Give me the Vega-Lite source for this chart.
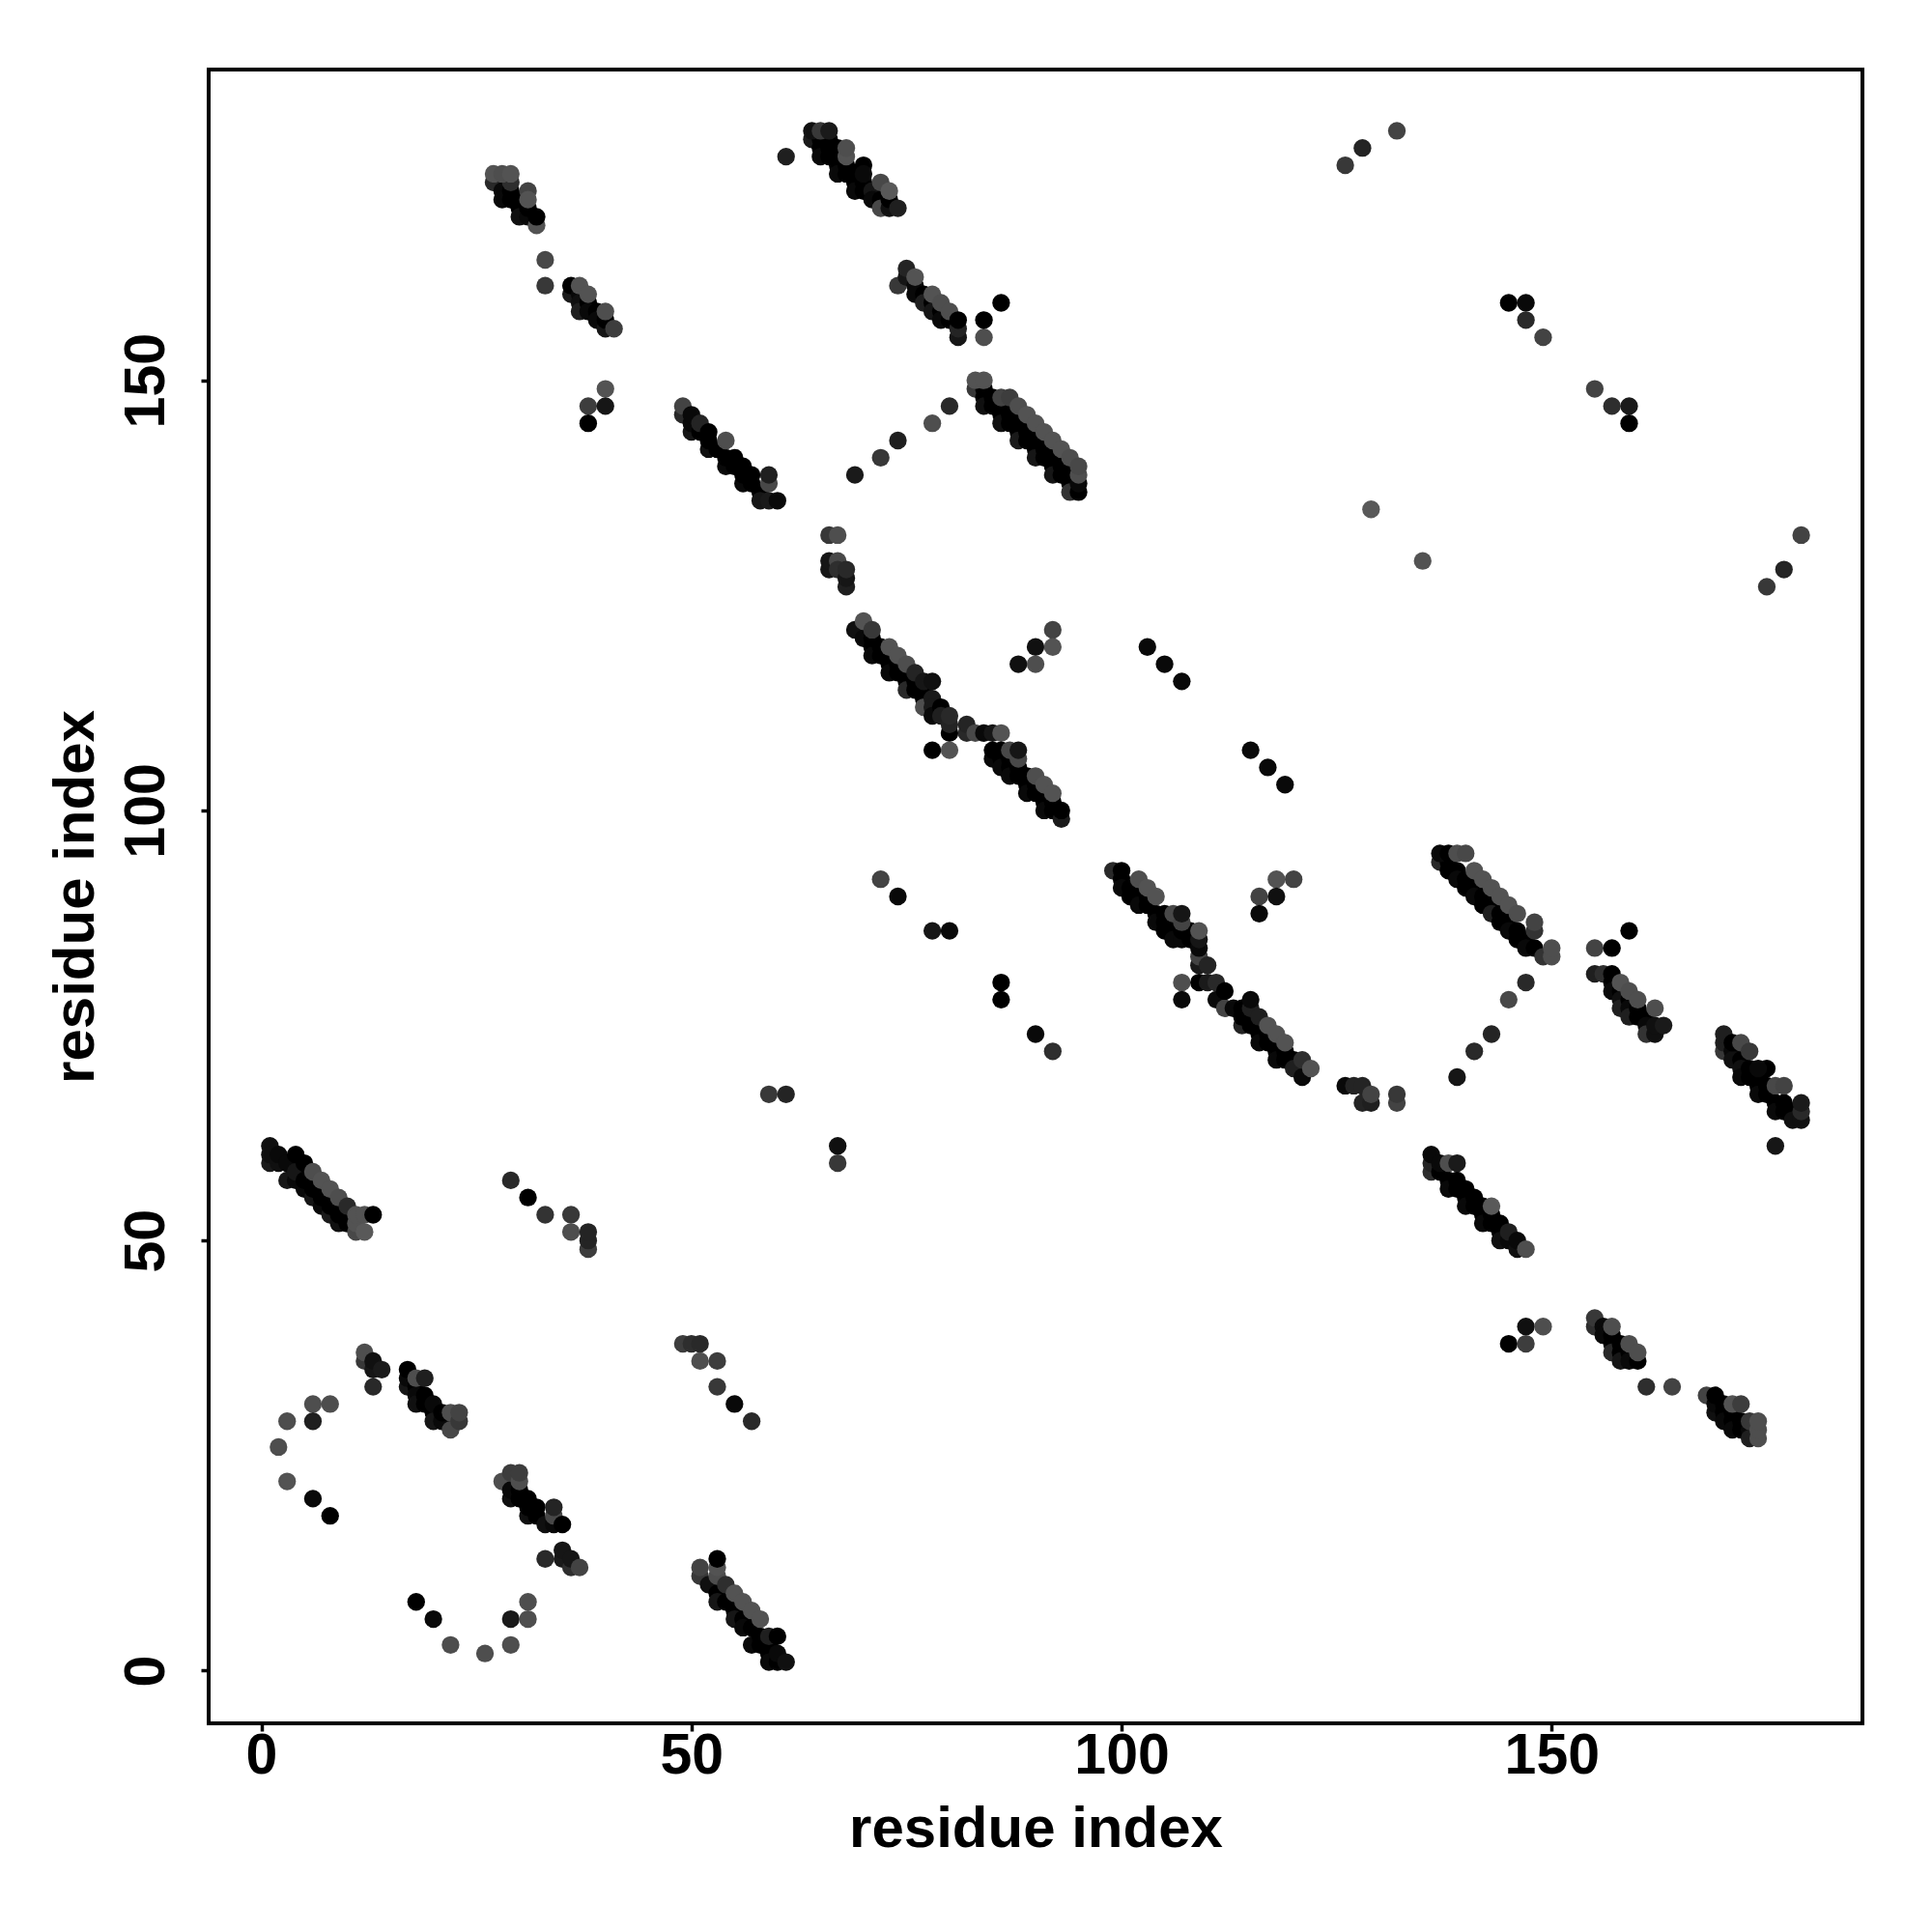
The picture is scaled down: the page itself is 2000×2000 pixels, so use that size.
{"$schema":"https://vega.github.io/schema/vega-lite/v6.json","width":1712,"height":1712,"autosize":{"type":"none"},"padding":{"left":216,"top":72,"right":72,"bottom":216},"background":"white","view":{"stroke":"black","strokeWidth":4,"fill":null},"data":{"values":[
{"x":1,"y":59,"s":20},{"x":2,"y":59,"s":10},{"x":3,"y":57,"s":15},{"x":4,"y":57,"s":5},{"x":5,"y":56,"s":5},{"x":6,"y":55,"s":15},{"x":7,"y":54,"s":5},{"x":8,"y":53,"s":20},{"x":9,"y":52,"s":10},{"x":10,"y":52,"s":5},
{"x":1,"y":61,"s":10},{"x":1,"y":60,"s":10},{"x":2,"y":60,"s":5},{"x":3,"y":59,"s":5},{"x":4,"y":58,"s":15},{"x":5,"y":57,"s":0},{"x":6,"y":56,"s":0},{"x":7,"y":55,"s":0},{"x":8,"y":54,"s":0},{"x":9,"y":53,"s":0},{"x":10,"y":52,"s":0},{"x":4,"y":60,"s":0},{"x":5,"y":59,"s":0},
{"x":6,"y":58,"s":70},{"x":7,"y":57,"s":75},{"x":8,"y":56,"s":75},{"x":9,"y":55,"s":70},{"x":10,"y":54,"s":35},{"x":11,"y":51,"s":65},{"x":11,"y":52,"s":75},{"x":11,"y":53,"s":75},{"x":12,"y":53,"s":75},{"x":12,"y":51,"s":80},{"x":13,"y":53,"s":0},
{"x":29,"y":57,"s":35},{"x":31,"y":55,"s":0},{"x":33,"y":53,"s":45},{"x":36,"y":53,"s":50},{"x":36,"y":51,"s":70},{"x":38,"y":49,"s":55},{"x":38,"y":50,"s":30},{"x":38,"y":51,"s":30},
{"x":8,"y":31,"s":70},{"x":6,"y":31,"s":70},{"x":6,"y":29,"s":25},{"x":3,"y":29,"s":70},{"x":2,"y":26,"s":70},{"x":3,"y":22,"s":75},{"x":6,"y":20,"s":5},{"x":8,"y":18,"s":0},
{"x":12,"y":36,"s":50},{"x":12,"y":37,"s":70},{"x":13,"y":35,"s":15},{"x":13,"y":36,"s":10},{"x":14,"y":35,"s":20},{"x":13,"y":33,"s":35},
{"x":17,"y":33,"s":15},{"x":17,"y":34,"s":5},{"x":17,"y":35,"s":0},{"x":18,"y":33,"s":0},{"x":18,"y":32,"s":5},{"x":18,"y":31,"s":10},{"x":19,"y":31,"s":0},{"x":19,"y":32,"s":0},{"x":20,"y":30,"s":0},{"x":20,"y":31,"s":5},{"x":20,"y":29,"s":15},{"x":21,"y":29,"s":5},{"x":21,"y":30,"s":0},{"x":18,"y":34,"s":70},{"x":19,"y":34,"s":25},{"x":22,"y":28,"s":65},{"x":22,"y":30,"s":70},{"x":23,"y":29,"s":50},{"x":23,"y":30,"s":60},
{"x":28,"y":22,"s":70},{"x":29,"y":20,"s":10},{"x":29,"y":21,"s":5},{"x":30,"y":20,"s":0},{"x":30,"y":21,"s":0},{"x":31,"y":18,"s":10},{"x":31,"y":19,"s":0},{"x":31,"y":20,"s":0},{"x":32,"y":18,"s":0},{"x":32,"y":19,"s":0},{"x":33,"y":17,"s":10},{"x":34,"y":17,"s":5},{"x":29,"y":23,"s":55},{"x":30,"y":22,"s":70},{"x":30,"y":23,"s":55},{"x":34,"y":18,"s":65},{"x":34,"y":19,"s":30},{"x":35,"y":17,"s":0},
{"x":33,"y":13,"s":35},{"x":35,"y":13,"s":20},{"x":36,"y":12,"s":40},{"x":35,"y":14,"s":15},{"x":36,"y":13,"s":15},{"x":37,"y":12,"s":60},
{"x":18,"y":8,"s":0},{"x":20,"y":6,"s":5},{"x":22,"y":3,"s":70},{"x":26,"y":2,"s":70},{"x":29,"y":3,"s":70},{"x":29,"y":6,"s":20},{"x":31,"y":6,"s":70},{"x":31,"y":8,"s":70},
{"x":51,"y":11,"s":50},{"x":52,"y":10,"s":10},{"x":53,"y":9,"s":0},{"x":53,"y":8,"s":15},{"x":54,"y":8,"s":0},{"x":55,"y":7,"s":0},{"x":55,"y":6,"s":15},{"x":56,"y":6,"s":0},{"x":56,"y":5,"s":5},{"x":57,"y":5,"s":0},{"x":57,"y":3,"s":5},{"x":58,"y":4,"s":0},{"x":58,"y":3,"s":0},{"x":59,"y":3,"s":0},{"x":59,"y":2,"s":0},{"x":59,"y":1,"s":5},{"x":60,"y":1,"s":0},{"x":60,"y":2,"s":5},{"x":61,"y":1,"s":10},{"x":51,"y":12,"s":60},{"x":53,"y":11,"s":70},{"x":53,"y":12,"s":75},{"x":53,"y":13,"s":0},{"x":54,"y":10,"s":40},{"x":55,"y":9,"s":75},{"x":56,"y":8,"s":75},{"x":57,"y":7,"s":75},{"x":58,"y":6,"s":75},{"x":59,"y":4,"s":25},{"x":60,"y":4,"s":0},
{"x":49,"y":38,"s":55},{"x":50,"y":38,"s":40},{"x":51,"y":38,"s":35},{"x":51,"y":36,"s":70},{"x":53,"y":36,"s":55},{"x":53,"y":33,"s":50},{"x":55,"y":31,"s":5},{"x":57,"y":29,"s":35},
{"x":27,"y":173,"s":35},{"x":28,"y":172,"s":5},{"x":28,"y":171,"s":5},{"x":29,"y":172,"s":0},{"x":29,"y":171,"s":0},{"x":29,"y":173,"s":40},{"x":30,"y":171,"s":0},{"x":30,"y":170,"s":0},{"x":30,"y":169,"s":10},{"x":31,"y":169,"s":5},{"x":31,"y":170,"s":0},{"x":27,"y":174,"s":75},{"x":28,"y":174,"s":70},{"x":29,"y":174,"s":75},{"x":31,"y":172,"s":60},{"x":31,"y":171,"s":75},{"x":32,"y":168,"s":75},{"x":32,"y":169,"s":0},{"x":33,"y":164,"s":65},{"x":33,"y":161,"s":50},
{"x":36,"y":160,"s":20},{"x":36,"y":161,"s":0},{"x":37,"y":160,"s":5},{"x":37,"y":159,"s":10},{"x":37,"y":158,"s":25},{"x":38,"y":159,"s":0},{"x":38,"y":158,"s":5},{"x":39,"y":158,"s":0},{"x":39,"y":157,"s":5},{"x":40,"y":156,"s":15},{"x":37,"y":161,"s":75},{"x":38,"y":160,"s":75},{"x":40,"y":157,"s":0},{"x":40,"y":158,"s":70},{"x":41,"y":156,"s":55},
{"x":40,"y":149,"s":75},{"x":38,"y":147,"s":55},{"x":40,"y":147,"s":15},{"x":38,"y":145,"s":0},
{"x":49,"y":146,"s":35},{"x":49,"y":147,"s":60},{"x":50,"y":144,"s":15},{"x":50,"y":145,"s":5},{"x":50,"y":146,"s":5},{"x":51,"y":144,"s":0},{"x":51,"y":145,"s":30},{"x":52,"y":142,"s":10},{"x":52,"y":143,"s":0},{"x":52,"y":144,"s":0},{"x":53,"y":142,"s":0},{"x":54,"y":140,"s":5},{"x":54,"y":141,"s":0},{"x":55,"y":140,"s":0},{"x":55,"y":141,"s":0},{"x":56,"y":138,"s":5},{"x":56,"y":139,"s":0},{"x":56,"y":140,"s":0},{"x":57,"y":139,"s":0},{"x":57,"y":138,"s":0},{"x":58,"y":137,"s":0},{"x":58,"y":136,"s":15},{"x":59,"y":136,"s":20},{"x":54,"y":143,"s":70},{"x":59,"y":138,"s":65},{"x":59,"y":139,"s":25},{"x":60,"y":136,"s":5},
{"x":61,"y":176,"s":25},
{"x":64,"y":178,"s":20},{"x":65,"y":178,"s":0},{"x":65,"y":177,"s":0},{"x":65,"y":176,"s":5},{"x":66,"y":178,"s":0},{"x":66,"y":177,"s":0},{"x":66,"y":176,"s":0},{"x":67,"y":177,"s":0},{"x":67,"y":176,"s":0},{"x":67,"y":175,"s":0},{"x":67,"y":174,"s":5},{"x":68,"y":175,"s":0},{"x":68,"y":174,"s":0},{"x":69,"y":174,"s":0},{"x":69,"y":173,"s":0},{"x":69,"y":172,"s":5},{"x":70,"y":173,"s":0},{"x":70,"y":172,"s":0},{"x":71,"y":172,"s":15},{"x":71,"y":171,"s":5},{"x":72,"y":171,"s":0},{"x":72,"y":170,"s":65},{"x":73,"y":170,"s":10},{"x":73,"y":171,"s":0},{"x":64,"y":179,"s":10},{"x":65,"y":179,"s":50},{"x":66,"y":179,"s":20},{"x":68,"y":176,"s":75},{"x":68,"y":177,"s":70},{"x":70,"y":175,"s":0},{"x":70,"y":174,"s":5},{"x":72,"y":173,"s":65},{"x":73,"y":172,"s":80},{"x":74,"y":170,"s":25},
{"x":74,"y":161,"s":50},{"x":75,"y":162,"s":15},{"x":75,"y":163,"s":30},{"x":76,"y":161,"s":5},{"x":76,"y":160,"s":5},{"x":77,"y":160,"s":0},{"x":77,"y":159,"s":25},{"x":78,"y":159,"s":0},{"x":78,"y":158,"s":15},{"x":79,"y":158,"s":0},{"x":79,"y":157,"s":5},{"x":80,"y":157,"s":0},{"x":76,"y":162,"s":75},{"x":78,"y":160,"s":75},{"x":79,"y":159,"s":70},{"x":80,"y":158,"s":70},{"x":81,"y":155,"s":15},{"x":81,"y":156,"s":30},{"x":81,"y":157,"s":0},{"x":84,"y":155,"s":70},{"x":84,"y":157,"s":0},{"x":86,"y":159,"s":0},
{"x":80,"y":147,"s":35},{"x":78,"y":145,"s":70},{"x":74,"y":143,"s":25},{"x":72,"y":141,"s":50},{"x":69,"y":139,"s":20},
{"x":83,"y":149,"s":50},{"x":84,"y":149,"s":0},{"x":84,"y":148,"s":0},{"x":84,"y":147,"s":10},{"x":85,"y":148,"s":0},{"x":85,"y":147,"s":0},{"x":86,"y":147,"s":0},{"x":86,"y":146,"s":0},{"x":86,"y":145,"s":10},{"x":87,"y":146,"s":0},{"x":87,"y":145,"s":0},{"x":88,"y":145,"s":0},{"x":88,"y":144,"s":0},{"x":88,"y":143,"s":20},{"x":89,"y":144,"s":0},{"x":89,"y":143,"s":0},{"x":90,"y":143,"s":0},{"x":90,"y":142,"s":0},{"x":90,"y":141,"s":15},{"x":91,"y":142,"s":0},{"x":91,"y":141,"s":0},{"x":92,"y":141,"s":0},{"x":92,"y":140,"s":0},{"x":92,"y":139,"s":15},{"x":93,"y":140,"s":0},{"x":93,"y":139,"s":0},{"x":94,"y":139,"s":0},{"x":94,"y":138,"s":0},{"x":94,"y":137,"s":45},{"x":83,"y":150,"s":75},{"x":84,"y":150,"s":75},{"x":86,"y":148,"s":60},{"x":87,"y":148,"s":55},{"x":88,"y":147,"s":70},{"x":89,"y":146,"s":75},{"x":90,"y":145,"s":75},{"x":91,"y":144,"s":75},{"x":92,"y":143,"s":75},{"x":93,"y":142,"s":75},{"x":94,"y":141,"s":70},{"x":95,"y":137,"s":0},{"x":95,"y":138,"s":5},{"x":95,"y":139,"s":70},{"x":95,"y":140,"s":65},
{"x":66,"y":128,"s":15},{"x":66,"y":129,"s":15},{"x":66,"y":132,"s":50},{"x":67,"y":132,"s":70},{"x":67,"y":129,"s":65},{"x":67,"y":128,"s":40},{"x":68,"y":126,"s":25},{"x":68,"y":127,"s":15},{"x":68,"y":128,"s":35},
{"x":69,"y":121,"s":10},{"x":70,"y":120,"s":5},{"x":71,"y":120,"s":0},{"x":71,"y":119,"s":0},{"x":71,"y":118,"s":5},{"x":72,"y":119,"s":0},{"x":72,"y":118,"s":0},{"x":73,"y":118,"s":0},{"x":73,"y":117,"s":0},{"x":73,"y":116,"s":5},{"x":74,"y":117,"s":0},{"x":74,"y":116,"s":0},{"x":75,"y":116,"s":0},{"x":75,"y":115,"s":0},{"x":75,"y":114,"s":35},{"x":76,"y":115,"s":0},{"x":76,"y":114,"s":0},{"x":77,"y":114,"s":0},{"x":77,"y":113,"s":0},{"x":70,"y":122,"s":75},{"x":71,"y":121,"s":50},{"x":73,"y":119,"s":75},{"x":74,"y":118,"s":75},{"x":75,"y":117,"s":70},{"x":76,"y":116,"s":30},{"x":77,"y":115,"s":15},{"x":78,"y":115,"s":10},{"x":77,"y":112,"s":70},{"x":78,"y":113,"s":20},{"x":78,"y":112,"s":20},{"x":78,"y":111,"s":5},{"x":79,"y":112,"s":0},{"x":79,"y":111,"s":25},{"x":80,"y":109,"s":0},{"x":80,"y":110,"s":30},{"x":80,"y":111,"s":35},{"x":78,"y":107,"s":0},{"x":80,"y":107,"s":75},
{"x":82,"y":109,"s":35},{"x":82,"y":110,"s":30},{"x":83,"y":109,"s":65},{"x":84,"y":109,"s":5},{"x":85,"y":109,"s":15},{"x":86,"y":109,"s":75},
{"x":85,"y":106,"s":5},{"x":85,"y":107,"s":0},{"x":86,"y":107,"s":0},{"x":86,"y":106,"s":0},{"x":86,"y":105,"s":5},{"x":87,"y":106,"s":0},{"x":87,"y":105,"s":0},{"x":87,"y":104,"s":5},{"x":88,"y":105,"s":0},{"x":88,"y":104,"s":0},{"x":89,"y":104,"s":0},{"x":89,"y":103,"s":0},{"x":89,"y":102,"s":5},{"x":90,"y":103,"s":0},{"x":90,"y":102,"s":0},{"x":91,"y":102,"s":0},{"x":91,"y":101,"s":0},{"x":91,"y":100,"s":5},{"x":92,"y":101,"s":0},{"x":92,"y":100,"s":0},{"x":87,"y":107,"s":65},{"x":88,"y":106,"s":65},{"x":88,"y":107,"s":15},{"x":90,"y":104,"s":70},{"x":91,"y":103,"s":75},{"x":92,"y":102,"s":75},{"x":93,"y":99,"s":20},{"x":93,"y":100,"s":0},
{"x":92,"y":121,"s":60},{"x":90,"y":119,"s":10},{"x":92,"y":119,"s":75},{"x":88,"y":117,"s":10},{"x":90,"y":117,"s":70},
{"x":103,"y":119,"s":5},{"x":105,"y":117,"s":5},{"x":107,"y":115,"s":5},{"x":115,"y":107,"s":5},{"x":117,"y":105,"s":5},{"x":119,"y":103,"s":5},
{"x":99,"y":93,"s":35},{"x":100,"y":93,"s":0},{"x":100,"y":92,"s":0},{"x":100,"y":91,"s":5},{"x":101,"y":91,"s":0},{"x":101,"y":90,"s":0},{"x":102,"y":90,"s":0},{"x":102,"y":89,"s":5},{"x":103,"y":90,"s":0},{"x":103,"y":89,"s":0},{"x":104,"y":88,"s":0},{"x":104,"y":87,"s":5},{"x":105,"y":88,"s":0},{"x":105,"y":87,"s":0},{"x":105,"y":86,"s":0},{"x":106,"y":86,"s":0},{"x":106,"y":87,"s":0},{"x":106,"y":85,"s":5},{"x":107,"y":85,"s":5},{"x":107,"y":86,"s":0},{"x":108,"y":86,"s":0},{"x":108,"y":85,"s":0},{"x":102,"y":92,"s":70},{"x":103,"y":91,"s":75},{"x":104,"y":90,"s":75},{"x":106,"y":88,"s":65},{"x":107,"y":87,"s":60},{"x":107,"y":88,"s":15},
{"x":109,"y":82,"s":20},{"x":109,"y":83,"s":60},{"x":109,"y":84,"s":5},{"x":109,"y":85,"s":15},{"x":109,"y":86,"s":75},{"x":110,"y":82,"s":30},{"x":107,"y":80,"s":70},{"x":107,"y":78,"s":5},{"x":109,"y":80,"s":0},{"x":110,"y":80,"s":20},{"x":111,"y":78,"s":5},{"x":112,"y":77,"s":60},{"x":111,"y":80,"s":35},{"x":112,"y":79,"s":0},
{"x":113,"y":77,"s":5},{"x":114,"y":75,"s":30},{"x":114,"y":77,"s":0},{"x":114,"y":76,"s":0},{"x":115,"y":76,"s":0},{"x":115,"y":75,"s":0},{"x":116,"y":75,"s":0},{"x":116,"y":74,"s":0},{"x":116,"y":73,"s":5},{"x":117,"y":74,"s":0},{"x":117,"y":73,"s":0},{"x":118,"y":73,"s":0},{"x":118,"y":72,"s":0},{"x":118,"y":71,"s":5},{"x":119,"y":72,"s":0},{"x":119,"y":71,"s":0},{"x":120,"y":71,"s":0},{"x":120,"y":70,"s":25},{"x":115,"y":77,"s":25},{"x":115,"y":78,"s":5},{"x":116,"y":76,"s":25},{"x":117,"y":75,"s":75},{"x":118,"y":74,"s":75},{"x":119,"y":73,"s":75},{"x":121,"y":69,"s":5},{"x":121,"y":71,"s":40},{"x":122,"y":70,"s":75},
{"x":118,"y":92,"s":75},{"x":120,"y":92,"s":60},{"x":116,"y":90,"s":60},{"x":118,"y":90,"s":10},{"x":116,"y":88,"s":5},
{"x":126,"y":68,"s":5},{"x":127,"y":68,"s":30},{"x":128,"y":68,"s":30},{"x":128,"y":66,"s":30},{"x":129,"y":66,"s":25},{"x":129,"y":67,"s":60},{"x":132,"y":66,"s":60},{"x":132,"y":67,"s":50},
{"x":126,"y":175,"s":50},{"x":128,"y":177,"s":30},{"x":132,"y":179,"s":60},{"x":129,"y":135,"s":80},{"x":135,"y":129,"s":75},{"x":175,"y":126,"s":50},{"x":177,"y":128,"s":30},{"x":179,"y":132,"s":60},
{"x":145,"y":159,"s":0},{"x":147,"y":159,"s":5},{"x":147,"y":157,"s":35},{"x":149,"y":155,"s":60},{"x":155,"y":149,"s":60},{"x":157,"y":147,"s":40},{"x":159,"y":147,"s":20},{"x":159,"y":145,"s":0},
{"x":72,"y":92,"s":60},{"x":74,"y":90,"s":5},{"x":78,"y":86,"s":15},{"x":80,"y":86,"s":5},{"x":86,"y":80,"s":0},{"x":86,"y":78,"s":0},{"x":90,"y":74,"s":5},{"x":92,"y":72,"s":40},{"x":59,"y":67,"s":50},{"x":61,"y":67,"s":30},{"x":67,"y":61,"s":10},{"x":67,"y":59,"s":50},
{"x":139,"y":69,"s":15},{"x":141,"y":72,"s":35},{"x":143,"y":74,"s":30},{"x":145,"y":78,"s":65},{"x":147,"y":80,"s":35},
{"x":137,"y":94,"s":35},{"x":138,"y":94,"s":0},{"x":138,"y":93,"s":0},{"x":139,"y":93,"s":0},{"x":139,"y":92,"s":5},{"x":140,"y":92,"s":0},{"x":140,"y":91,"s":0},{"x":141,"y":91,"s":0},{"x":141,"y":90,"s":5},{"x":142,"y":90,"s":0},{"x":142,"y":89,"s":0},{"x":143,"y":89,"s":0},{"x":143,"y":88,"s":25},{"x":144,"y":88,"s":0},{"x":144,"y":87,"s":0},{"x":145,"y":87,"s":0},{"x":145,"y":86,"s":5},{"x":146,"y":86,"s":0},{"x":146,"y":85,"s":0},{"x":147,"y":85,"s":0},{"x":147,"y":84,"s":5},{"x":148,"y":84,"s":0},{"x":137,"y":95,"s":5},{"x":138,"y":95,"s":0},{"x":139,"y":95,"s":70},{"x":140,"y":95,"s":65},{"x":141,"y":93,"s":75},{"x":142,"y":92,"s":75},{"x":143,"y":91,"s":75},{"x":144,"y":90,"s":75},{"x":145,"y":89,"s":75},{"x":146,"y":88,"s":70},{"x":148,"y":86,"s":45},{"x":148,"y":87,"s":60},{"x":149,"y":83,"s":45},{"x":150,"y":83,"s":70},{"x":150,"y":84,"s":70},
{"x":155,"y":84,"s":60},{"x":157,"y":84,"s":0},{"x":159,"y":86,"s":0},
{"x":155,"y":81,"s":25},{"x":156,"y":81,"s":40},{"x":157,"y":81,"s":0},{"x":157,"y":80,"s":0},{"x":157,"y":79,"s":5},{"x":158,"y":79,"s":0},{"x":158,"y":78,"s":10},{"x":158,"y":77,"s":25},{"x":159,"y":78,"s":0},{"x":159,"y":77,"s":5},{"x":159,"y":76,"s":25},{"x":160,"y":77,"s":0},{"x":160,"y":76,"s":0},{"x":161,"y":76,"s":0},{"x":161,"y":75,"s":5},{"x":158,"y":80,"s":75},{"x":159,"y":79,"s":70},{"x":160,"y":78,"s":70},{"x":161,"y":74,"s":45},{"x":162,"y":74,"s":10},{"x":162,"y":75,"s":10},{"x":162,"y":77,"s":70},{"x":163,"y":75,"s":20},
{"x":170,"y":72,"s":50},{"x":170,"y":73,"s":25},{"x":170,"y":74,"s":25},{"x":171,"y":72,"s":5},{"x":171,"y":71,"s":10},{"x":171,"y":73,"s":0},{"x":172,"y":71,"s":0},{"x":172,"y":70,"s":10},{"x":172,"y":69,"s":5},{"x":173,"y":70,"s":0},{"x":173,"y":69,"s":0},{"x":174,"y":69,"s":0},{"x":174,"y":68,"s":0},{"x":174,"y":67,"s":5},{"x":175,"y":68,"s":0},{"x":175,"y":67,"s":0},{"x":176,"y":66,"s":0},{"x":176,"y":65,"s":5},{"x":177,"y":66,"s":0},{"x":177,"y":65,"s":0},{"x":178,"y":65,"s":0},{"x":178,"y":64,"s":10},{"x":172,"y":73,"s":65},{"x":173,"y":72,"s":50},{"x":175,"y":70,"s":0},{"x":174,"y":70,"s":5},{"x":176,"y":68,"s":65},{"x":177,"y":68,"s":60},{"x":179,"y":64,"s":10},{"x":179,"y":65,"s":35},{"x":179,"y":66,"s":20},{"x":176,"y":61,"s":15},
{"x":136,"y":58,"s":40},{"x":136,"y":59,"s":30},{"x":136,"y":60,"s":5},{"x":137,"y":58,"s":0},{"x":137,"y":59,"s":5},{"x":138,"y":57,"s":0},{"x":138,"y":56,"s":5},{"x":139,"y":57,"s":0},{"x":139,"y":56,"s":0},{"x":140,"y":56,"s":0},{"x":140,"y":55,"s":0},{"x":140,"y":54,"s":5},{"x":141,"y":55,"s":0},{"x":141,"y":54,"s":0},{"x":142,"y":54,"s":0},{"x":142,"y":53,"s":0},{"x":142,"y":52,"s":5},{"x":143,"y":53,"s":0},{"x":143,"y":52,"s":0},{"x":144,"y":51,"s":0},{"x":144,"y":50,"s":10},{"x":145,"y":50,"s":5},{"x":146,"y":49,"s":10},{"x":138,"y":59,"s":70},{"x":139,"y":59,"s":20},{"x":143,"y":54,"s":80},{"x":144,"y":52,"s":0},{"x":145,"y":51,"s":25},{"x":146,"y":50,"s":5},{"x":147,"y":49,"s":70},
{"x":145,"y":38,"s":0},{"x":147,"y":40,"s":10},{"x":147,"y":38,"s":55},{"x":149,"y":40,"s":70},
{"x":155,"y":40,"s":40},{"x":155,"y":41,"s":50},{"x":156,"y":40,"s":5},{"x":156,"y":39,"s":5},{"x":157,"y":39,"s":0},{"x":157,"y":38,"s":0},{"x":157,"y":37,"s":35},{"x":158,"y":38,"s":0},{"x":158,"y":37,"s":0},{"x":158,"y":36,"s":15},{"x":159,"y":37,"s":0},{"x":159,"y":36,"s":5},{"x":157,"y":40,"s":70},{"x":159,"y":38,"s":70},{"x":160,"y":36,"s":0},{"x":160,"y":37,"s":70},
{"x":161,"y":33,"s":40},{"x":164,"y":33,"s":60},
{"x":168,"y":32,"s":60},{"x":169,"y":30,"s":10},{"x":169,"y":31,"s":5},{"x":169,"y":32,"s":0},{"x":170,"y":31,"s":0},{"x":170,"y":30,"s":0},{"x":170,"y":29,"s":5},{"x":171,"y":30,"s":0},{"x":171,"y":29,"s":0},{"x":171,"y":28,"s":5},{"x":172,"y":29,"s":0},{"x":172,"y":28,"s":0},{"x":173,"y":28,"s":5},{"x":171,"y":31,"s":75},{"x":172,"y":31,"s":55},{"x":173,"y":27,"s":25},{"x":173,"y":29,"s":50},{"x":174,"y":27,"s":70},{"x":174,"y":28,"s":70},{"x":174,"y":29,"s":70}
]},"mark":{"type":"circle","size":335,"opacity":1},"encoding":{"x":{"field":"x","type":"quantitative","scale":{"domain":[-6.12,186.12],"nice":false,"zero":false},"axis":{"values":[0,50,100,150],"grid":false,"domain":false,"ticks":true,"tickColor":"black","tickSize":8,"tickWidth":3.5,"labelFont":"Liberation Sans","labelFontWeight":"bold","labelFontSize":59,"labelColor":"black","labelPadding":-4,"labelFlush":false,"title":"residue index","titleFont":"Liberation Sans","titleFontWeight":"bold","titleFontSize":60,"titleColor":"black","titlePadding":17}},"y":{"field":"y","type":"quantitative","scale":{"domain":[-6.12,186.12],"nice":false,"zero":false},"axis":{"values":[0,50,100,150],"grid":false,"domain":false,"ticks":true,"tickColor":"black","tickSize":8,"tickWidth":3.5,"labelFont":"Liberation Sans","labelFontWeight":"bold","labelFontSize":59,"labelColor":"black","labelAngle":-90,"labelAlign":"center","labelBaseline":"bottom","labelPadding":27,"labelFlush":false,"title":"residue index","titleFont":"Liberation Sans","titleFontWeight":"bold","titleFontSize":60,"titleColor":"black","titlePadding":13}},"color":{"field":"s","type":"quantitative","legend":null,"scale":{"domain":[0,100],"range":["#000000","#707070"]}}}}
